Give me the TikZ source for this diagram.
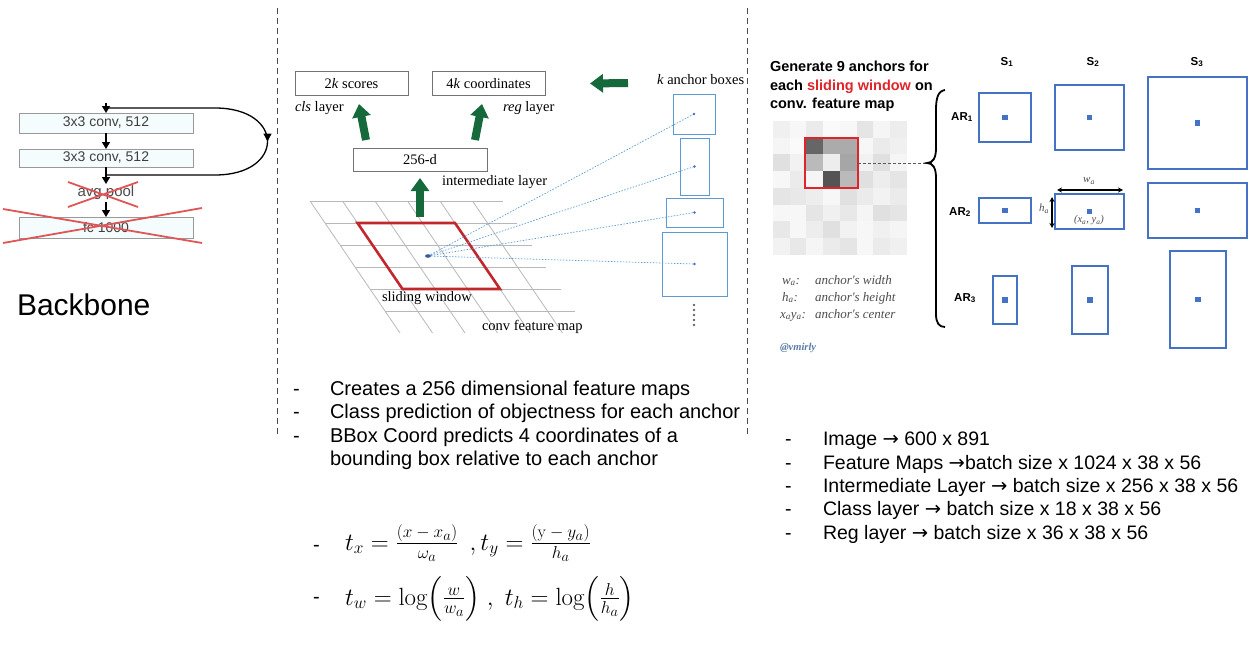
\documentclass[tikz,border=0pt]{standalone}
\usepackage{amsmath}
\usepackage[no-math]{fontspec}
\setmainfont{Liberation Sans}
\newfontfamily\tnr{Liberation Serif}
\newfontfamily\dv{DejaVu Sans}
\newcommand\rarr{{\dv\char"2192}}
\newcommand\myfrac[2]{\frac{\mbox{\fontsize{19}{21}\selectfont$#1$}}{\mbox{\fontsize{19}{21}\selectfont$#2$}}}
\usetikzlibrary{arrows.meta,decorations.markings}
\definecolor{gr}{HTML}{16693A}
\definecolor{xr}{HTML}{E05555}
\definecolor{pr}{HTML}{C1272D}
\definecolor{ablu}{HTML}{5B9BD5}
\definecolor{rblu}{HTML}{4472C4}
\definecolor{twred}{HTML}{E0242A}
\definecolor{vm}{HTML}{5A7AA8}
\begin{document}
\begin{tikzpicture}[x=1pt,y=-1pt,
  every node/.style={inner sep=0pt, outer sep=0pt},
  bbox/.style={draw=black!40, fill=cyan!4, line width=0.9pt, minimum width=174pt, font=\fontsize{14}{16}\selectfont, text=black!75},
  barrow/.style={-{Triangle[length=7pt,width=8pt]}, line width=1.4pt},
  skipc/.style={line width=1.3pt, postaction={decorate}, decoration={markings, mark=at position 0.5 with {\arrow{Triangle[length=8pt,width=8pt]}}}},
  xred/.style={draw=xr, line width=1.8pt},
  vdash/.style={draw=black!70, line width=0.9pt, dash pattern=on 6pt off 4pt},
  gridl/.style={draw=black!28, line width=0.8pt},
  mbox/.style={draw=black!55, line width=1pt, font=\tnr\fontsize{14.5}{16}\selectfont},
  mlab/.style={font=\tnr\fontsize{14.5}{16}\selectfont},
  garrow/.style={draw=gr, line width=8pt, -{Triangle[length=13pt,width=18pt]}},
  abox/.style={draw=ablu, line width=1pt},
  dotl/.style={draw=ablu, line width=0.7pt, dash pattern=on 1.5pt off 1.5pt},
  rbox/.style={draw=rblu, line width=1.6pt},
  rlab/.style={font=\bfseries\fontsize{11.5}{13}\selectfont},
  ttl/.style={anchor=base west, font=\bfseries\fontsize{14.5}{17}\selectfont},
  leg/.style={anchor=base west, text=black!70, font=\tnr\itshape\fontsize{13}{15}\selectfont},
  bul/.style={anchor=base west, font=\fontsize{20}{24}\selectfont},
  rbul/.style={anchor=base west, font=\fontsize{19.5}{24}\selectfont},
  eq/.style={anchor=base west, font=\fontsize{25}{29}\selectfont}
]
\path[use as bounding box] (0,0) rectangle (1256,661);

% ---------- Backbone ----------
\node[bbox, minimum height=20pt] (b1) at (106,123) {3x3 conv, 512};
\node[bbox, minimum height=18pt] (b2) at (106,158) {3x3 conv, 512};
\node[text=black!70, font=\fontsize{15}{17}\selectfont, inner sep=2pt] (pool) at (106,193) {avg pool};
\node[bbox, minimum height=21pt] (b3) at (106,227.5) {fc 1000};
\coordinate (bin) at (106,103);
\coordinate (sk1) at (106,108);
\coordinate (sk2) at (106,175);
\draw[barrow] (bin) -- (b1);
\draw[barrow] (b1) -- (b2);
\draw[barrow] (b2) -- (pool);
\draw[barrow] (pool) -- (b3);
\draw[skipc] (sk1) -- (215,108) .. controls (285,108) and (285,175) .. (215,175) -- (sk2);
\draw[xred] (68,182) -- (138,207) (68,207) -- (138,182);
\draw[xred] (3,209) -- (202,243) (3,243) -- (202,208);
\node[anchor=west, font=\fontsize{30}{34}\selectfont] (bb) at (17,305) {Backbone};

% ---------- separators ----------
\draw[vdash] (277,8) -- (277,437);
\draw[vdash] (747,8) -- (747,437);

% ---------- RPN figure ----------
\foreach \i in {0,...,5}
  \draw[gridl] ({310+15*\i},{201+22*\i}) -- ({503+14.4*\i},{201+22*\i});
\foreach \j in {0,...,5}
  \draw[gridl] ({310+32.5*\j},201) -- ({400+32.5*\j},333);
\draw[pr, line width=2.6pt, line join=miter] (357.5,223) -- (455,223) -- (500,289) -- (402.5,289) -- cycle;
\coordinate (swc) at (428,256);
\coordinate (swtop) at (420,217);

\node[mbox, minimum width=113pt, minimum height=23pt] (s2k) at (351.5,83.5) {2\textit{k} scores};
\node[mbox, minimum width=113pt, minimum height=23pt] (c4k) at (488.5,83.5) {4\textit{k} coordinates};
\node[mbox, minimum width=134pt, minimum height=23pt] (mid) at (420,159.5) {256-d};
\node[mlab, anchor=west] (cls) at (295,108) {\textit{cls} layer};
\node[mlab, anchor=west] (reg) at (503,108) {\textit{reg} layer};
\node[mlab, anchor=west] (iml) at (442,182) {intermediate layer};
\node[mlab, anchor=west] (kab) at (657,80) {\textit{k} anchor boxes};
\node[mlab, anchor=west] (swl) at (382,298) {sliding window};
\node[mlab, anchor=west] (cfm) at (482,327) {conv feature map};
\coordinate (kin) at (628,83);

\draw[garrow] ([xshift=-54pt,yshift=8pt]mid.north) -- ([xshift=7.5pt,yshift=-9pt]s2k.south);
\draw[garrow] ([xshift=55pt,yshift=8pt]mid.north) -- ([xshift=-6.5pt,yshift=-9pt]c4k.south);
\draw[garrow] (swtop) -- ([yshift=-7pt]mid.south);
\draw[garrow] (kin) -- ([xshift=45pt]c4k.east);

\node[abox, minimum width=42pt, minimum height=40pt] (a1) at (694,114) {};
\node[abox, minimum width=29pt, minimum height=57pt] (a2) at (694.5,166.5) {};
\node[abox, minimum width=57pt, minimum height=29pt] (a3) at (694.5,212.5) {};
\node[abox, minimum width=65pt, minimum height=64pt] (a4) at (694.5,264) {};
\foreach \a in {a1,a2,a3,a4} {
  \draw[dotl] (swc) -- (\a.center);
  \fill[rblu] (\a.center) circle (1.4pt);
}
\fill[rblu!80!black] (swc) ellipse (3pt and 1.8pt);
\foreach \k in {0,...,4}
  \fill[black!60] (694,{305+5*\k}) circle (1.4pt);

% ---------- anchors panel ----------
\node[ttl] (t1) at (770,72) {Generate 9 anchors for};
\node[ttl] (t2) at (770,90) {each \textcolor{twred}{sliding window} on};
\node[ttl] (t3) at (770,108) {conv. feature map};

\foreach \row [count=\r from 0] in {
  {6,3,8,2,3,10,4,7},
  {4,2,60,33,33,3,8,6},
  {12,5,27,7,35,5,12,4},
  {3,8,4,67,27,12,7,10},
  {10,9,7,3,12,8,5,8},
  {3,3,10,6,9,4,12,10},
  {9,3,7,12,5,3,6,4},
  {5,9,4,8,10,3,8,6}} {
  \foreach \v [count=\c from 0] in \row
    \fill[black!\v] ({773+16.7*\c},{121+16.7*\r}) rectangle +(16.7,16.7);
}
\node[draw=twred, line width=2.6pt, minimum width=53pt, minimum height=50pt] (win) at (831.5,163) {};
\coordinate (btip) at (927,163);
\draw[black!65, line width=0.8pt, dash pattern=on 3pt off 2pt] (win.east) -- (btip);
\draw[line width=1.8pt] (945,90) .. controls (938,91) and (936,98) .. (936,110) -- (936,148)
  .. controls (936,158) and (933,163) .. (btip)
  .. controls (933,163) and (936,168) .. (936,178) -- (936,314)
  .. controls (936,323) and (939,327) .. (945,327);

\node[rlab] (s1) at (1007,62) {S\textsubscript{1}};
\node[rlab] (s2) at (1093,62) {S\textsubscript{2}};
\node[rlab] (s3) at (1197,62) {S\textsubscript{3}};
\node[rlab] (ar1) at (962,117) {AR\textsubscript{1}};
\node[rlab] (ar2) at (960,212) {AR\textsubscript{2}};
\node[rlab] (ar3) at (965,298) {AR\textsubscript{3}};

\node[rbox, minimum width=52pt, minimum height=49pt] (r11) at (1005,117.5) {};
\node[rbox, minimum width=69pt, minimum height=65pt] (r12) at (1089.5,117.5) {};
\node[rbox, minimum width=99pt, minimum height=92pt] (r13) at (1197.5,123) {};
\node[rbox, minimum width=52pt, minimum height=25pt] (r21) at (1005,210.5) {};
\node[rbox, minimum width=69pt, minimum height=35pt] (r22) at (1089.5,211.5) {};
\node[rbox, minimum width=99pt, minimum height=55pt] (r23) at (1197.5,210.5) {};
\node[rbox, minimum width=24pt, minimum height=48pt] (r31) at (1005,300) {};
\node[rbox, minimum width=36pt, minimum height=68pt] (r32) at (1090,300) {};
\node[rbox, minimum width=56pt, minimum height=97pt] (r33) at (1198,299.5) {};
\foreach \b in {r11,r12,r13,r21,r22,r23,r31,r32,r33}
  \fill[rblu] (\b.center) +(-2.6,-2.6) rectangle +(2.6,2.6);

\coordinate (wl) at (1057,190);
\coordinate (wr) at (1123,190);
\coordinate (ht) at (1052,197);
\coordinate (hb) at (1052,228);
\draw[line width=1.2pt, {Stealth[length=5pt,width=5pt]}-{Stealth[length=5pt,width=5pt]}] (wl) -- (wr);
\draw[line width=1.2pt, {Stealth[length=5pt,width=5pt]}-{Stealth[length=5pt,width=5pt]}] (ht) -- (hb);
\node[text=black!70, font=\tnr\itshape\fontsize{11}{12}\selectfont] (wal) at (1089,181) {w\textsubscript{a}};
\node[text=black!70, font=\tnr\itshape\fontsize{11}{12}\selectfont] (hal) at (1044,209) {h\textsubscript{a}};
\node[text=black!70, font=\tnr\itshape\fontsize{10.5}{12}\selectfont] (xyl) at (1089,220) {(x\textsubscript{a}, y\textsubscript{a})};

\node[leg] (l1a) at (782,284) {w\textsubscript{a}:};
\node[leg] (l1b) at (815,284) {anchor's width};
\node[leg] (l2a) at (782,301) {h\textsubscript{a}:};
\node[leg] (l2b) at (815,301) {anchor's height};
\node[leg] (l3a) at (780,318) {x\textsubscript{a}y\textsubscript{a}:};
\node[leg] (l3b) at (815,318) {anchor's center};
\node[anchor=west, text=vm, font=\tnr\itshape\bfseries\fontsize{10.5}{12}\selectfont] (vmy) at (780,348) {@vmirly};

% ---------- bullets ----------
\node[bul] (m1d) at (293,395) {-};
\node[bul] (m1) at (330,395) {Creates a 256 dimensional feature maps};
\node[bul] (m2d) at (293,418.5) {-};
\node[bul] (m2) at (330,418.5) {Class prediction of objectness for each anchor};
\node[bul] (m3d) at (293,442) {-};
\node[bul] (m3) at (330,442) {BBox Coord predicts 4 coordinates of a};
\node[bul] (m4) at (330,465.5) {bounding box relative to each anchor};

\node[rbul] (r1d) at (785,445) {-};
\node[rbul] (rb1) at (823,445) {Image \rarr{} 600 x 891};
\node[rbul] (r2d) at (785,469) {-};
\node[rbul] (rb2) at (823,469) {Feature Maps \rarr{}batch size x 1024 x 38 x 56};
\node[rbul] (r3d) at (785,492) {-};
\node[rbul] (rb3) at (823,492) {Intermediate Layer \rarr{} batch size x 256 x 38 x 56};
\node[rbul] (r4d) at (785,515) {-};
\node[rbul] (rb4) at (823,515) {Class layer \rarr{} batch size x 18 x 38 x 56};
\node[rbul] (r5d) at (785,539) {-};
\node[rbul] (rb5) at (823,539) {Reg layer \rarr{} batch size x 36 x 38 x 56};

% ---------- formulas ----------
\node[bul] (f1d) at (313,551) {-};
\node[eq] (f1) at (345,550) {$t_x=\myfrac{(x-x_a)}{\omega_a}\;\,,t_y=\myfrac{(\mathrm{y}-y_a)}{h_a}$};
\node[bul] (f2d) at (313,603) {-};
\node[eq] (f2) at (345,605) {$t_w=\log\Bigl(\myfrac{w}{w_a}\Bigr)\;,\;t_h=\log\Bigl(\myfrac{h}{h_a}\Bigr)$};
\end{tikzpicture}
\end{document}
